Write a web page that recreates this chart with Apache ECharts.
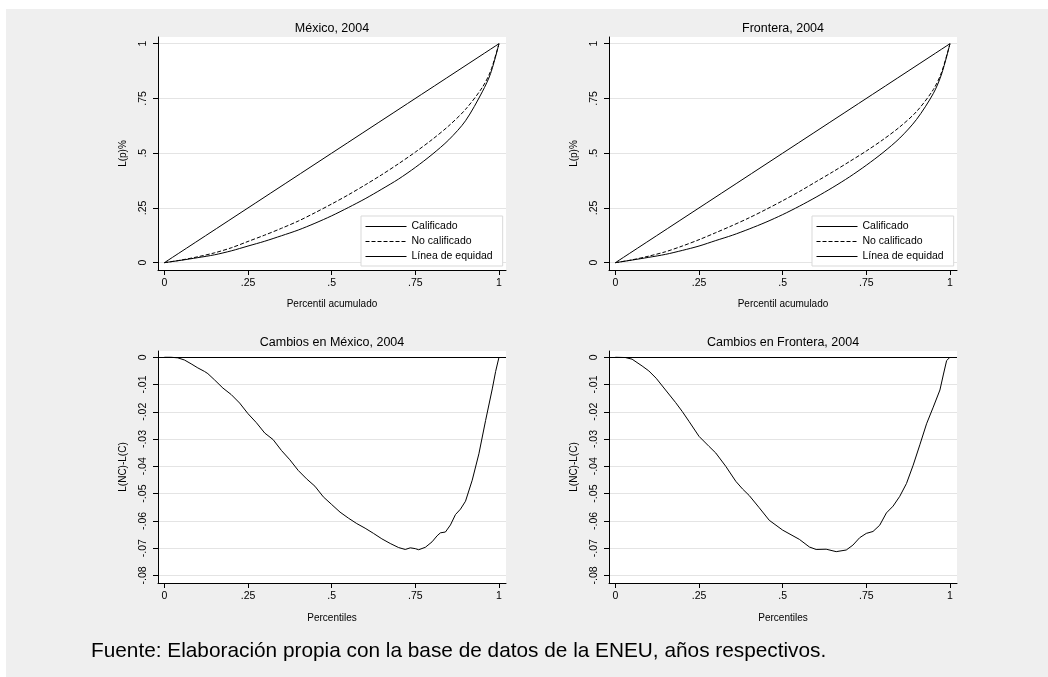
<!DOCTYPE html>
<html>
<head>
<meta charset="utf-8">
<script src="https://cdn.jsdelivr.net/npm/echarts@6/dist/echarts.min.js"></script>
<style>
html, body { margin: 0; padding: 0; background: #fff; }
#fondo { position: absolute; left: 6px; top: 9px; width: 1042px; height: 668px; background: #efefef; }
#main { position: absolute; left: 0; top: 0; width: 1048px; height: 677px; }
</style>
</head>
<body>
<div id="fondo"></div>
<div id="main"></div>
<script>
// curvas de Lorenz (percentil acumulado)
var xLorenz = [0, .05, .1, .15, .2, .25, .3, .35, .4, .45, .5, .55, .6, .65, .7, .75, .8, .85, .9, .95, .975, 1];
var noCalifMex = [0, .012, .027, .045, .068, .097, .126, .157, .19, .228, .268, .31, .355, .402, .452, .505, .562, .625, .70, .80, .875, 1];
var califMex = [0, .011, .023, .036, .054, .076, .098, .123, .149, .18, .214, .252, .292, .336, .382, .435, .494, .561, .648, .78, .864, 1];
var noCalifFro = [0, .013, .03, .05, .076, .105, .137, .17, .205, .243, .283, .325, .37, .415, .462, .51, .562, .62, .69, .79, .87, 1];
var califFro = [0, .012, .0245, .038, .056, .076, .101, .1255, .154, .185, .2196, .258, .2995, .344, .392, .445, .503, .569, .654, .772, .8615, 1];
var xEquidad = [0, 1];
var yEquidad = [0, 1];

// cambios L(NC)-L(C)
var xCambiosMex = [0, .02, .04, .06, .08, .1, .12, .13, .15, .175, .2, .225, .25, .275, .3, .325, .35, .375, .4, .425, .45, .475, .5, .525, .55, .575, .6, .625, .65, .675, .7, .72, .735, .75, .76, .78, .8, .815, .825, .84, .855, .87, .885, .9, .92, .94, .96, .98, .99, 1];
var cambiosMex = [0, 0, -.0002, -.001, -.0024, -.0039, -.0052, -.006, -.0083, -.0113, -.0137, -.0168, -.0207, -.024, -.0278, -.0302, -.0342, -.0376, -.0415, -.0446, -.0473, -.0512, -.054, -.0568, -.059, -.061, -.0627, -.0646, -.0666, -.0683, -.0698, -.0705, -.0699, -.0702, -.0706, -.0697, -.0677, -.0655, -.0644, -.0641, -.0615, -.0577, -.0557, -.0528, -.0451, -.0354, -.0232, -.0116, -.0052, 0];
var xCambiosFro = [0, .03, .05, .08, .1, .122, .15, .18, .2, .22, .25, .28, .3, .33, .36, .38, .4, .43, .46, .5, .55, .58, .6, .63, .66, .69, .71, .73, .75, .77, .79, .81, .83, .85, .87, .89, .91, .93, .95, .97, .98, .99, 1];
var cambiosFro = [0, -.0001, -.0007, -.0032, -.005, -.0077, -.012, -.0166, -.0199, -.0235, -.029, -.0327, -.0351, -.04, -.0455, -.0483, -.0507, -.0552, -.0598, -.0634, -.0668, -.0696, -.0705, -.0704, -.0713, -.0707, -.0689, -.0662, -.0646, -.0639, -.0616, -.0571, -.0546, -.051, -.0463, -.0396, -.0321, -.0244, -.0183, -.012, -.0065, -.0012, 0];

var ticksX = [0, .25, .5, .75, 1];
var ticksYArriba = [0, .25, .5, .75, 1];
var ticksYAbajo = [0, -.01, -.02, -.03, -.04, -.05, -.06, -.07, -.08];
var nombres = ['Calificado', 'No calificado', 'Línea de equidad'];

var fuente = '"Liberation Sans", Arial, sans-serif';

function pares(xs, ys) {
  return xs.map(function (x, i) { return [x, ys[i]]; });
}
function fmt(v) {
  return String(+(+v).toFixed(2)).replace('0.', '.');
}
function ejeX(idx, nombre, gap) {
  return {
    type: 'value', gridIndex: idx, min: -0.019, max: 1.021,
    name: nombre, nameLocation: 'middle', nameGap: gap,
    nameTextStyle: { color: '#000', fontSize: 10, fontFamily: fuente },
    axisLine: { show: true, onZero: false, lineStyle: { color: '#000', width: 1 } },
    axisTick: { show: true, length: 5, customValues: ticksX, lineStyle: { color: '#000', width: 1 } },
    axisLabel: { customValues: ticksX, formatter: fmt, margin: 8, color: '#000', fontSize: 10.5, fontFamily: fuente },
    splitLine: { show: false }
  };
}
function ejeY(idx, min, max, ticks, nombre) {
  return {
    type: 'value', gridIndex: idx, min: min, max: max,
    name: nombre, nameLocation: 'middle', nameGap: 30, nameRotate: 90,
    nameTextStyle: { color: '#000', fontSize: 10, fontFamily: fuente },
    axisLine: { show: true, onZero: false, lineStyle: { color: '#000', width: 1 } },
    axisTick: { show: true, length: 5, customValues: ticks, lineStyle: { color: '#000', width: 1 } },
    axisLabel: { customValues: ticks, formatter: fmt, rotate: 90, margin: 9, color: '#000', fontSize: 10.5, fontFamily: fuente },
    splitLine: { show: true, lineStyle: { color: '#e4e4e4', width: 1 } }
  };
}
function titulo(texto, x, y) {
  return { text: texto, left: x, top: y, textAlign: 'center', padding: 0,
    textStyle: { color: '#000', fontSize: 12.5, fontWeight: 'normal', fontFamily: fuente } };
}
function leyenda(x) {
  return {
    data: nombres, orient: 'vertical', left: x, top: 216,
    itemWidth: 41, itemHeight: 10, itemGap: 4, padding: [5, 10, 4, 4],
    backgroundColor: '#fff', borderColor: '#d9d9d9', borderWidth: 1, borderRadius: 0,
    selectedMode: false,
    itemStyle: { color: 'transparent', borderColor: 'transparent', borderWidth: 0, opacity: 0 },
    lineStyle: { width: 1 },
    textStyle: { color: '#000', fontSize: 10.5, fontFamily: fuente }
  };
}
function linea(nombre, idx, datos, tipo) {
  return {
    type: 'line', name: nombre, xAxisIndex: idx, yAxisIndex: idx, data: datos,
    symbol: 'none', smooth: 0.3, animation: false, silent: true,
    lineStyle: { color: '#000', width: 1, type: tipo || 'solid' },
    itemStyle: { color: '#000' }
  };
}
function cambios(idx, datos) {
  return {
    type: 'line', name: 'cambios' + idx, xAxisIndex: idx, yAxisIndex: idx, data: datos,
    symbol: 'none', animation: false, silent: true,
    lineStyle: { color: '#000', width: 1 },
    markLine: { silent: true, symbol: 'none', label: { show: false },
      lineStyle: { color: '#000', width: 1, type: 'solid' }, data: [{ yAxis: 0 }] }
  };
}

var chart = echarts.init(document.getElementById('main'), null, { renderer: 'canvas' });
chart.setOption({
  backgroundColor: 'transparent',
  animation: false,
  title: [
    titulo('México, 2004', 332, 22),
    titulo('Frontera, 2004', 783, 22),
    titulo('Cambios en México, 2004', 332, 336),
    titulo('Cambios en Frontera, 2004', 783, 336),
    { text: 'Fuente: Elaboración propia con la base de datos de la ENEU, años respectivos.', left: 91, top: 641, padding: 0,
      textStyle: { color: '#000', fontSize: 20.8, fontWeight: 'normal', fontFamily: fuente } }
  ],
  legend: [leyenda(361), leyenda(812)],
  grid: [
    { left: 158, top: 37, width: 348, height: 233, show: true, backgroundColor: '#fff', borderWidth: 0 },
    { left: 609, top: 37, width: 348, height: 233, show: true, backgroundColor: '#fff', borderWidth: 0 },
    { left: 158, top: 351, width: 348, height: 232, show: true, backgroundColor: '#fff', borderWidth: 0 },
    { left: 609, top: 351, width: 348, height: 232, show: true, backgroundColor: '#fff', borderWidth: 0 }
  ],
  xAxis: [
    ejeX(0, 'Percentil acumulado', 29),
    ejeX(1, 'Percentil acumulado', 29),
    ejeX(2, 'Percentiles', 30),
    ejeX(3, 'Percentiles', 30)
  ],
  yAxis: [
    ejeY(0, -0.0334, 1.0306, ticksYArriba, 'L(p)%'),
    ejeY(1, -0.0334, 1.0306, ticksYArriba, 'L(p)%'),
    ejeY(2, -0.0828, 0.0023, ticksYAbajo, 'L(NC)-L(C)'),
    ejeY(3, -0.0828, 0.0023, ticksYAbajo, 'L(NC)-L(C)')
  ],
  series: [
    linea('Calificado', 0, pares(xLorenz, califMex)),
    linea('No calificado', 0, pares(xLorenz, noCalifMex), [4, 2]),
    linea('Línea de equidad', 0, pares(xEquidad, yEquidad)),
    linea('Calificado', 1, pares(xLorenz, califFro)),
    linea('No calificado', 1, pares(xLorenz, noCalifFro), [4, 2]),
    linea('Línea de equidad', 1, pares(xEquidad, yEquidad)),
    cambios(2, pares(xCambiosMex, cambiosMex)),
    cambios(3, pares(xCambiosFro, cambiosFro))
  ]
});
</script>
</body>
</html>
